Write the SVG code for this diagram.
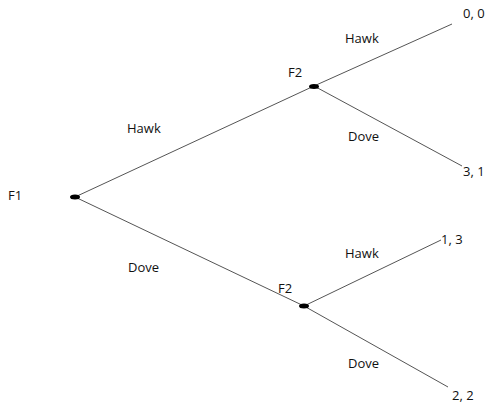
<svg xmlns="http://www.w3.org/2000/svg" width="489" height="404" viewBox="0 0 489 404">
  <style>
    text { font-family: "Open Sans", "Liberation Sans", sans-serif; font-size: 13px; fill: #111; }
    .edge { stroke: #555; stroke-width: 1; fill: none; }
    .dot { fill: #000; }
  </style>
  <rect width="489" height="404" fill="#fff"/>
  <g id="connectors">
    <line class="edge" x1="75" y1="197" x2="314" y2="86"/>
    <line class="edge" x1="75" y1="197" x2="304" y2="306"/>
    <line class="edge" x1="314" y1="86" x2="452" y2="24"/>
    <line class="edge" x1="314" y1="86" x2="462" y2="166"/>
    <line class="edge" x1="304" y1="306" x2="441" y2="240"/>
    <line class="edge" x1="304" y1="306" x2="448" y2="387"/>
    <text x="127" y="133">Hawk</text>
    <text x="128" y="272">Dove</text>
    <text x="345" y="43">Hawk</text>
    <text x="348" y="141">Dove</text>
    <text x="345" y="258">Hawk</text>
    <text x="348" y="368">Dove</text>
  </g>
  <g id="f1">
    <ellipse class="dot" cx="75" cy="197" rx="5" ry="2.5"/>
    <text x="8" y="200">F1</text>
  </g>
  <g id="f2-top">
    <ellipse class="dot" cx="314" cy="86.5" rx="5" ry="2.5"/>
    <text x="288" y="77">F2</text>
  </g>
  <g id="f2-bottom">
    <ellipse class="dot" cx="304" cy="306" rx="5" ry="2.5"/>
    <text x="278" y="293">F2</text>
  </g>
  <g id="payoff-hh">
    <text x="463" y="18">0, 0</text>
  </g>
  <g id="payoff-hd">
    <text x="463" y="176">3, 1</text>
  </g>
  <g id="payoff-dh">
    <text x="441" y="244">1, 3</text>
  </g>
  <g id="payoff-dd">
    <text x="452" y="400">2, 2</text>
  </g>
</svg>
